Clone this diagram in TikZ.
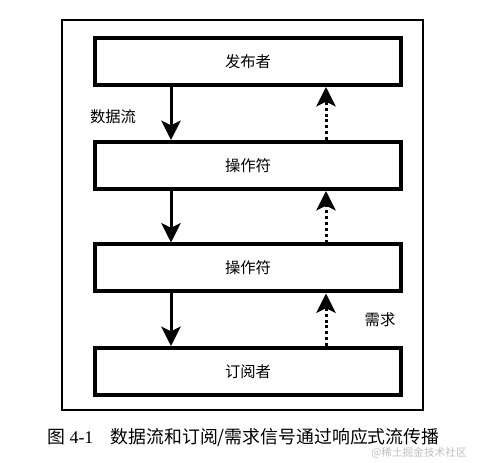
\documentclass[tikz,border=0pt]{standalone}
\usepackage{fontspec}
\setmainfont{Liberation Serif}
\newfontfamily\cjk{Noto Sans CJK SC}
\usetikzlibrary{arrows.meta}
\tikzset{
  stagebox/.style={draw, line width=3pt, minimum width=229.5pt, minimum height=35.25pt, inner sep=0pt, font=\cjk\fontsize{11.5}{13}\selectfont},
  dataflow/.style={line width=2.25pt, -{Stealth[length=14.5pt,width=14.5pt,inset=3.5pt]}},
  demand/.style={line width=2.25pt, dash pattern={on 2.2pt off 2.2pt}, -{Stealth[length=14.5pt,width=14.5pt,inset=3.5pt]}},
  sidelabel/.style={inner sep=0pt, font=\cjk\fontsize{11.5}{13}\selectfont}
}
\begin{document}
\begin{tikzpicture}[x=0.75pt,y=0.75pt,yscale=-1,xscale=1]
\useasboundingbox (0,0) rectangle (490,463);

%Outer frame
\draw [line width=1.5pt] (62,20) rectangle (423,410) ;

% Stages
\node [stagebox] (pub) at (248,61.5) {发布者};
\node [stagebox] (opa) at (248,165.5) {操作符};
\node [stagebox] (opb) at (248,268) {操作符};
\node [stagebox] (sub) at (248,371.5) {订阅者};

% Data flow (down)
\draw [dataflow] ([xshift=-57.75pt]pub.south) -- ([xshift=-57.75pt]opa.north) ;
\draw [dataflow] ([xshift=-57.75pt]opa.south) -- ([xshift=-57.75pt]opb.north) ;
\draw [dataflow] ([xshift=-57.75pt]opb.south) -- ([xshift=-57.75pt]sub.north) ;
% Demand (up)
\draw [demand] ([xshift=58.5pt]opa.north) -- ([xshift=58.5pt]pub.south) ;
\draw [demand] ([xshift=58.5pt]opb.north) -- ([xshift=58.5pt]opa.south) ;
\draw [demand] ([xshift=58.5pt]sub.north) -- ([xshift=58.5pt]opb.south) ;

% Text Node
\node [sidelabel] (flowlabel) at (113,117) {数据流};
% Text Node
\node [sidelabel] (demandlabel) at (380,320) {需求};

% Caption
\node [anchor=west, inner sep=0pt, font=\fontsize{13.4}{15}\selectfont] (caption) at (47,438) {{\cjk 图} 4-1\hspace{13pt}{\cjk 数据流和订阅/需求信号通过响应式流传播}};
\node [anchor=east, inner sep=0pt, text=black!25, font=\cjk\fontsize{8}{9}\selectfont] (mark) at (467,453) {@稀土掘金技术社区};

\end{tikzpicture}
\end{document}
